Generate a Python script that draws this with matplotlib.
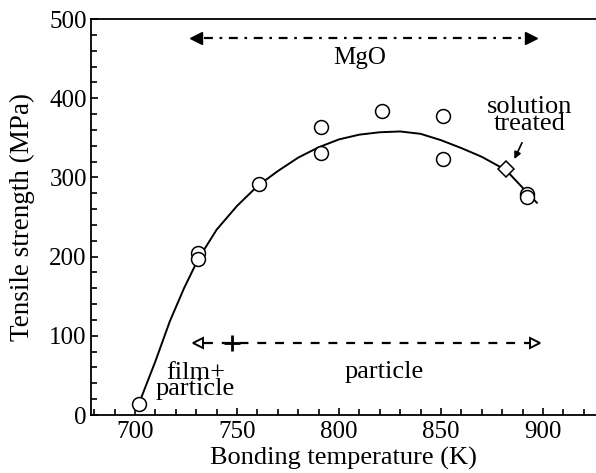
import matplotlib
matplotlib.use("Agg")
import matplotlib.pyplot as plt
from matplotlib.ticker import MultipleLocator

plt.rcParams['font.family'] = ['Liberation Serif', 'DejaVu Serif']

# measured points (open circles)
temp = [702, 731, 731, 761, 791, 791, 821, 851, 851, 892, 892]
strength = [14, 205, 197, 292, 364, 331, 384, 377, 323, 279, 275]

# solution treated (diamond)
st_temp = [882]
st_strength = [311]

# fitted curve
curve_t = [702, 710, 717, 724, 731, 740, 750, 760, 770, 780, 790, 800, 810,
           820, 830, 840, 850, 860, 870, 882, 890, 897]
curve_s = [15, 68, 118, 160, 197, 234, 264, 289, 308, 325, 338, 348, 354,
           357, 358, 355, 347, 337, 326, 309, 287, 268]

# range arrows: (start, end, level)
mgo_range = (730, 894, 476)
particle_range = (730, 897, 91)
boundary_t = 747.5

fig = plt.figure(figsize=(5.96, 4.73), dpi=100)
ax = fig.add_axes([91/596, 58/473, 505/596, 396/473])

ax.plot(curve_t, curve_s, color='black', lw=1.4, zorder=2)
ax.plot(temp, strength, 'o', ms=10, mfc='white', mec='black', mew=1.1, zorder=3)
ax.plot(st_temp, st_strength, 'D', ms=8, mfc='white', mec='black', mew=1.1, zorder=3)

# MgO range
x0, x1, y = mgo_range
ax.plot([x0 + 4, x1 - 4], [y, y], color='black', lw=1.6, dashes=(4, 3, 1.2, 3))
ax.plot([x0], [y], marker='<', ms=8, color='black')
ax.plot([x1], [y], marker='>', ms=8, color='black')
ax.text(810, 451, 'MgO', ha='center', va='center', fontsize=18)

# particle range
x0, x1, y = particle_range
ax.plot([x0 + 4, x1 - 4], [y, y], color='black', lw=1.6, dashes=(4, 4))
ax.plot([x0 + 1], [y], marker='<', ms=7, mfc='white', mec='black', mew=1.4)
ax.plot([x1 - 1], [y], marker='>', ms=7, mfc='white', mec='black', mew=1.4)
ax.plot([boundary_t], [y], marker='+', ms=11, mew=2, color='black')
ax.text(729.5, 43, 'film+\nparticle', ha='center', va='center', fontsize=19,
        linespacing=0.68)
ax.text(822, 54, 'particle', ha='center', va='center', fontsize=19)

ax.text(893.5, 378, 'solution\ntreated', ha='center', va='center', fontsize=19,
        linespacing=0.68)
ax.annotate('', xy=(885.4, 320), xytext=(890.3, 347),
            arrowprops=dict(arrowstyle='-|>', color='black', lw=1.2,
                            mutation_scale=10))

ax.set_xlim(678.4, 926)
ax.set_ylim(0, 500)
ax.xaxis.set_major_locator(MultipleLocator(50))
ax.xaxis.set_minor_locator(MultipleLocator(10))
ax.yaxis.set_major_locator(MultipleLocator(100))
ax.yaxis.set_minor_locator(MultipleLocator(20))
ax.tick_params(which='both', direction='in', labelsize=18, width=1.2)
ax.tick_params(which='major', length=5)
ax.tick_params(which='minor', length=4)
ax.tick_params(axis='x', pad=4)
ax.tick_params(axis='y', pad=3)
ax.spines['right'].set_visible(False)
for s in ['left', 'bottom', 'top']:
    ax.spines[s].set_linewidth(1.3)

ax.set_xlabel('Bonding temperature (K)', fontsize=19, labelpad=3)
ax.set_ylabel('Tensile strength (MPa)', fontsize=19.5, labelpad=10)

fig.savefig('out.png', dpi=100)
